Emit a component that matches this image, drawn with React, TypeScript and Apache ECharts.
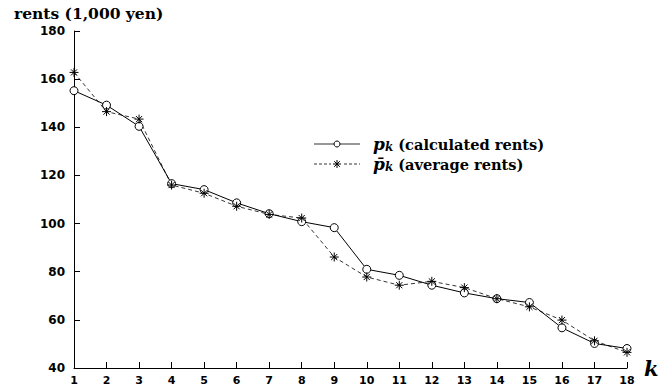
import React, { useEffect, useRef } from "react";
import * as echarts from "echarts";

const kValues = [1, 2, 3, 4, 5, 6, 7, 8, 9, 10, 11, 12, 13, 14, 15, 16, 17, 18];
const calculatedRents = [155.2, 149.2, 140.4, 116.6, 114.1, 108.6, 104.1, 100.8, 98.3, 81.0, 78.5, 74.4, 71.2, 68.8, 67.2, 56.7, 50.2, 48.1];
const averageRents = [162.8, 146.5, 143.4, 116.0, 112.6, 107.2, 103.8, 102.3, 86.1, 77.8, 74.4, 76.0, 73.4, 68.8, 65.4, 59.9, 51.3, 46.5];
const yTicks = { min: 40, max: 180, interval: 20 };
const legendLabels = ["(calculated rents)", "(average rents)"];

const SERIF = "'DejaVu Serif', serif";
const SANS = "'DejaVu Sans', sans-serif";
const STAR = "path://M5 0L5 10M0 5L10 5M1.6 1.6L8.4 8.4M1.6 8.4L8.4 1.6";

function star(cx: number, cy: number, r: number) {
  const d = r * 0.7;
  const s = { stroke: "#000", lineWidth: 1 };
  return [
    { type: "line", shape: { x1: cx, y1: cy - r, x2: cx, y2: cy + r }, style: s },
    { type: "line", shape: { x1: cx - r, y1: cy, x2: cx + r, y2: cy }, style: s },
    { type: "line", shape: { x1: cx - d, y1: cy - d, x2: cx + d, y2: cy + d }, style: s },
    { type: "line", shape: { x1: cx - d, y1: cy + d, x2: cx + d, y2: cy - d }, style: s },
  ];
}

export default function App() {
  const ref = useRef<HTMLDivElement>(null);
  useEffect(() => {
    if (!ref.current) return;
    const chart = echarts.init(ref.current, null, { renderer: "svg" });
    const rich = {
      p: { fontFamily: SERIF, fontStyle: "italic", fontWeight: "bold", fontSize: 17, fill: "#000" },
      k: { fontFamily: SERIF, fontStyle: "italic", fontWeight: "bold", fontSize: 12, fill: "#000", padding: [6, 5, 0, 0] },
      t: { fontFamily: SERIF, fontWeight: "bold", fontSize: 14.6, fill: "#000" },
    };
    const row1 = 144;
    const row2 = 164;
    chart.setOption({
      animation: false,
      backgroundColor: "#fff",
      title: {
        text: "rents (1,000 yen)",
        left: 9,
        top: 0,
        textStyle: { fontFamily: SERIF, fontWeight: "bold", fontSize: 15.5, color: "#000" },
      },
      graphic: [
        { type: "line", shape: { x1: 314, y1: row1, x2: 360, y2: row1 }, style: { stroke: "#333", lineWidth: 1.2 } },
        { type: "circle", shape: { cx: 337, cy: row1, r: 3 }, style: { fill: "#fff", stroke: "#000", lineWidth: 1 } },
        { type: "line", shape: { x1: 314, y1: row2, x2: 360, y2: row2 }, style: { stroke: "#000", lineWidth: 0.8, lineDash: [3, 2] } },
        { type: "rect", shape: { x: 331, y: row2 - 5, width: 12, height: 10 }, style: { fill: "#fff" } },
        ...star(337, row2, 4),
        {
          type: "text",
          x: 373,
          y: row1,
          style: { text: "{p|p}{k|k}{t|" + legendLabels[0] + "}", rich, verticalAlign: "middle" },
        },
        {
          type: "text",
          x: 373,
          y: row2,
          style: { text: "{p|p\u0304}{k|k}{t|" + legendLabels[1] + "}", rich, verticalAlign: "middle" },
        },
      ],
      grid: { left: 74, right: 41, top: 31, bottom: 23 },
      xAxis: {
        type: "value",
        min: 1,
        max: 18,
        interval: 1,
        name: "k",
        nameLocation: "end",
        nameGap: 17,
        nameTextStyle: { fontFamily: SERIF, fontStyle: "italic", fontWeight: "bold", fontSize: 21, color: "#000" },
        axisLine: { lineStyle: { color: "#000", width: 1 } },
        axisTick: { inside: true, length: 6, lineStyle: { color: "#000" } },
        axisLabel: { fontFamily: SANS, fontWeight: "bold", fontSize: 11, color: "#000", margin: 7 },
        splitLine: { show: false },
      },
      yAxis: {
        type: "value",
        min: yTicks.min,
        max: yTicks.max,
        interval: yTicks.interval,
        axisLine: { show: true, lineStyle: { color: "#000", width: 1 } },
        axisTick: { show: true, inside: true, length: 6, lineStyle: { color: "#000" } },
        axisLabel: { fontFamily: SANS, fontWeight: "bold", fontSize: 12, color: "#000", margin: 9 },
        splitLine: { show: false },
      },
      series: [
        {
          name: "calc",
          type: "line",
          data: kValues.map((k, i) => [k, calculatedRents[i]]),
          symbol: "circle",
          symbolSize: 8,
          lineStyle: { color: "#000", width: 1 },
          itemStyle: { color: "#fff", borderColor: "#000", borderWidth: 1 },
        },
        {
          name: "avg",
          type: "line",
          data: kValues.map((k, i) => [k, averageRents[i]]),
          symbol: STAR,
          symbolSize: 9,
          lineStyle: { color: "#000", width: 0.8, type: [4, 3] },
          itemStyle: { color: "#000", borderColor: "#000", borderWidth: 1 },
        },
      ],
    });
    return () => chart.dispose();
  }, []);
  return <div ref={ref} style={{ position: "fixed", left: 0, top: 0, width: 668, height: 391 }} />;
}
